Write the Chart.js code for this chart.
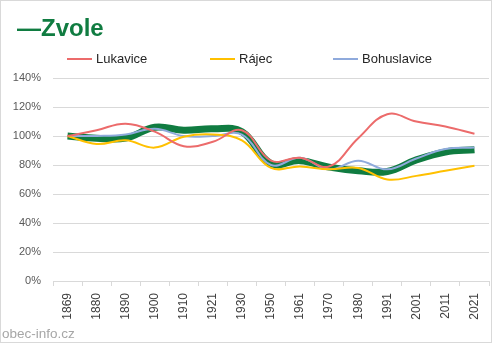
<!DOCTYPE html>
<html>
<head>
<meta charset="utf-8">
<script src="https://cdn.jsdelivr.net/npm/chart.js@4/dist/chart.umd.min.js"></script>
<style>
  html, body { margin: 0; padding: 0; background: #fff; }
  #wrap { position: relative; width: 492px; height: 343px; }
</style>
</head>
<body>
<div id="wrap"><canvas id="chart" width="492" height="343"></canvas></div>
<script>
const years = ['1869', '1880', '1890', '1900', '1910', '1921', '1930', '1950', '1961', '1970', '1980', '1991', '2001', '2011', '2021'];
const zvole = [100, 98.5, 98.5, 106, 104, 105, 103, 81, 83, 78.5, 76, 75.5, 83.5, 89, 90.5];
const lukavice = [100, 104, 108.5, 103, 93, 96, 104, 83, 85, 79, 98.5, 115, 110, 106.5, 101.5];
const rajec = [100, 94.5, 97, 92, 99.5, 101, 97, 78, 79, 77, 78, 70, 72.5, 76, 79.5];
const bohuslavice = [100, 100, 101, 105, 100, 100, 101, 80, 85, 77, 83, 77, 84.5, 91, 92];
const yTicks = [0, 20, 40, 60, 80, 100, 120, 140];

const green = '#107c41';
const legendItems = [
  { label: 'Lukavice', color: '#ec6b6b', x: 67 },
  { label: 'Rájec', color: '#ffc000', x: 210 },
  { label: 'Bohuslavice', color: '#8faadc', x: 333 }
];

// title, legend, watermark and frame drawn around the plot
const decorations = {
  id: 'decorations',
  afterDraw(chart) {
    const ctx = chart.ctx;
    ctx.save();
    ctx.fillStyle = green;
    ctx.font = 'bold 24px "Liberation Sans", Arial, sans-serif';
    ctx.textBaseline = 'alphabetic';
    ctx.fillText('—Zvole', 17, 36);

    ctx.font = '13px "Liberation Sans", Arial, sans-serif';
    ctx.textBaseline = 'middle';
    legendItems.forEach(item => {
      ctx.strokeStyle = item.color;
      ctx.lineWidth = 2;
      ctx.beginPath();
      ctx.moveTo(item.x, 59);
      ctx.lineTo(item.x + 25, 59);
      ctx.stroke();
      ctx.fillStyle = '#262626';
      ctx.fillText(item.label, item.x + 29, 59);
    });

    ctx.fillStyle = '#a6a6a6';
    ctx.font = '13.5px "Liberation Sans", Arial, sans-serif';
    ctx.textBaseline = 'alphabetic';
    ctx.fillText('obec-info.cz', 2, 338);

    ctx.strokeStyle = '#d9d9d9';
    ctx.lineWidth = 1;
    ctx.strokeRect(0.5, 0.5, 491, 342);
    ctx.restore();
  }
};

function line(data, color, width, order) {
  return {
    data: data,
    borderColor: color,
    backgroundColor: color,
    borderWidth: width,
    pointRadius: 0,
    tension: 0.4,
    fill: false,
    order: order
  };
}

new Chart(document.getElementById('chart'), {
  type: 'line',
  data: {
    labels: years,
    datasets: [
      line(zvole, green, 7, 10),
      line(lukavice, '#ec6b6b', 2, 1),
      line(rajec, '#ffc000', 2, 2),
      line(bohuslavice, '#8faadc', 2, 3)
    ]
  },
  options: {
    responsive: false,
    animation: false,
    layout: { padding: { top: 78, right: 3, left: 0, bottom: 0 } },
    plugins: { legend: { display: false }, title: { display: false }, tooltip: { enabled: false } },
    scales: {
      x: {
        offset: true,
        grid: { offset: true, drawOnChartArea: false, drawTicks: true, tickLength: 5, color: '#d9d9d9' },
        border: { display: true, color: '#d9d9d9' },
        ticks: {
          minRotation: 90, maxRotation: 90, padding: 7,
          color: '#404040',
          font: { family: '"Liberation Sans", Arial, sans-serif', size: 12 }
        },
        afterFit(scale) {
          scale.height = 62;
          scale.paddingLeft = 0;
          scale.paddingRight = 0;
        }
      },
      y: {
        min: 0, max: 140,
        afterBuildTicks(scale) { scale.ticks = yTicks.map(v => ({ value: v })); },
        grid: { drawTicks: false, color: '#d9d9d9' },
        border: { display: false },
        ticks: {
          padding: 12,
          color: '#595959',
          font: { family: '"Liberation Sans", Arial, sans-serif', size: 11 },
          callback: v => v + '%'
        },
        afterFit(scale) {
          scale.width = 53;
          scale.paddingTop = 0;
          scale.paddingBottom = 0;
        }
      }
    }
  },
  plugins: [decorations]
});
</script>
</body>
</html>
